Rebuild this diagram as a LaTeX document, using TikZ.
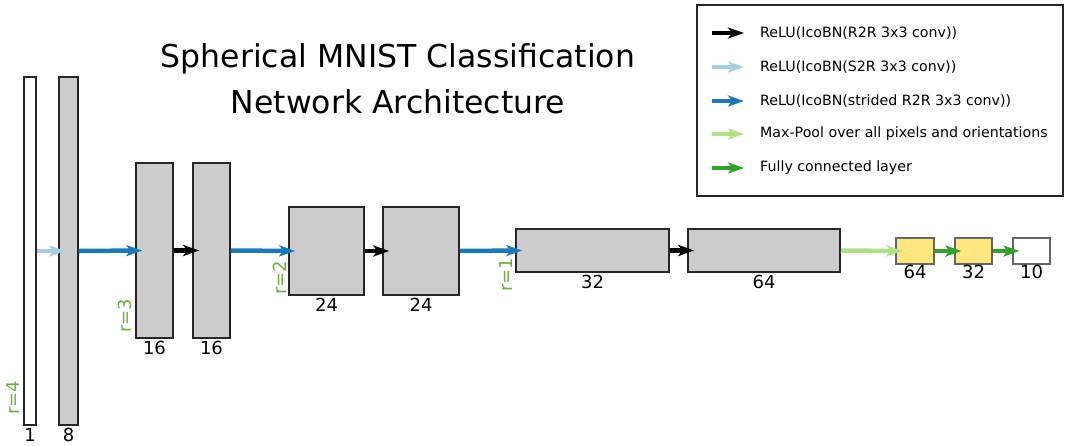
\documentclass[tikz,border=0pt]{standalone}
\usepackage{fontspec}
\setmainfont{DejaVu Sans}
\usetikzlibrary{arrows.meta}
\definecolor{lgray}{RGB}{204,204,204}
\definecolor{fcyellow}{RGB}{255,230,128}
\definecolor{rgreen}{RGB}{112,173,71}
\definecolor{pairA}{RGB}{166,206,227}
\definecolor{pairB}{RGB}{31,120,180}
\definecolor{pairC}{RGB}{178,223,138}
\definecolor{pairD}{RGB}{51,160,44}
\newcommand{\layer}[6]{\node[layer, fill=#2, minimum width=#5, minimum height=#6] (#1) at (#3,#4) {};}
\newcommand{\flow}[3]{\draw[flow, #1] (#2.east) -- ([xshift=7pt]#3.west);}

\begin{document}
\begin{tikzpicture}[x=1pt, y=-1pt,
  layer/.style = {draw=black!85, line width=1.5pt, inner sep=0pt},
  fclayer/.style = {layer, draw=black!60, line width=1.2pt},
  flow/.style = {line width=4.5pt, -{Stealth[length=16pt, width=11pt, inset=4pt]}},
  size/.style = {below, inner sep=2pt, font=\fontsize{18}{18}\selectfont},
  rlabel/.style = {rotate=90, anchor=south west, inner sep=0pt, text=rgreen, font=\fontsize{18}{18}\selectfont},
  entry/.style = {anchor=west, inner sep=0pt, font=\fontsize{14.2}{14.2}\selectfont}]
\useasboundingbox (0,0) rectangle (1067,445);
\node[align=center, font=\fontsize{31.5}{46}\selectfont] (title) at (398,79) {Spherical MNIST Classification\\Network Architecture};
% layers
\layer{in}{white}{30}{251}{12}{348}
\layer{c8}{lgray}{68.5}{251}{19}{348}
\layer{c16a}{lgray}{154.5}{250.5}{37}{175}
\layer{c16b}{lgray}{211.5}{250.5}{37}{175}
\layer{c24a}{lgray}{326.5}{251}{75}{88}
\layer{c24b}{lgray}{421}{251}{76}{88}
\layer{c32}{lgray}{592.5}{250.5}{153}{43}
\layer{c64}{lgray}{764}{250.5}{152}{43}
\node[fclayer, fill=fcyellow, minimum width=38, minimum height=26] (f64) at (915,251) {};
\node[fclayer, fill=fcyellow, minimum width=37, minimum height=26] (f32) at (973.5,251) {};
\node[fclayer, fill=white, minimum width=37, minimum height=26] (out) at (1031.5,251) {};
% sizes
\node[size] (n1) at (in.south) {1};
\node[size] (n8) at (c8.south) {8};
\node[size] (n16a) at (c16a.south) {16};
\node[size] (n16b) at (c16b.south) {16};
\node[size] (n24a) at (c24a.south) {24};
\node[size] (n24b) at (c24b.south) {24};
\node[size] (n32) at (c32.south) {32};
\node[size] (n64) at (c64.south) {64};
\node[size, inner sep=0pt] (m64) at (f64.south) {64};
\node[size, inner sep=0pt] (m32) at (f32.south) {32};
\node[size, inner sep=0pt] (m10) at (out.south) {10};
% resolutions
\node[rlabel] (r4) at (20,415) {r=4};
\node[rlabel] (r3) at (132,333) {r=3};
\node[rlabel] (r2) at (287,295) {r=2};
\node[rlabel] (r1) at (513,292) {r=1};
% connections
\flow{pairA}{in}{c8}
\flow{pairB}{c8}{c16a}
\flow{black}{c16a}{c16b}
\flow{pairB}{c16b}{c24a}
\flow{black}{c24a}{c24b}
\flow{pairB}{c24b}{c32}
\flow{black}{c32}{c64}
\flow{pairC}{c64}{f64}
\flow{pairD}{f64}{f32}
\flow{pairD}{f32}{out}
% legend
\node[draw=black!85, line width=2.5pt, minimum width=366, minimum height=191] (legend) at (880,100.5) {};
\foreach \y/\c/\t [count=\i] in {33/black/ReLU(IcoBN(R2R 3x3 conv)),
    67/pairA/ReLU(IcoBN(S2R 3x3 conv)),
    101/pairB/ReLU(IcoBN(strided R2R 3x3 conv)),
    134/pairC/Max-Pool over all pixels and orientations,
    168/pairD/Fully connected layer} {
  \coordinate (k\i) at (712,\y);
  \node[entry] (e\i) at (760,\y) {\t};
  \draw[flow, \c] (k\i) -- ([xshift=32pt]k\i);
}
\end{tikzpicture}
\end{document}
